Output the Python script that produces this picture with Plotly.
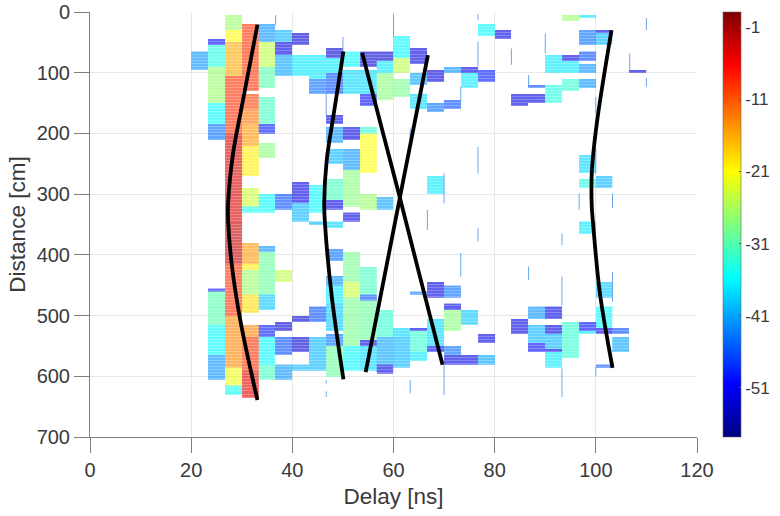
import numpy as np
import plotly.graph_objects as go

# power delay profile, one block per (delay column, distance from, distance to, dB)
column_start = 20.0
column_width = 10 / 3
row_step = 5.0
n_columns = 27

block_col = [0] * 1 + [1] * 9 + [2] * 10 + [3] * 14 + [4] * 13 + [5] * 8 + [6] * 7 + [7] * 6 + [8] * 15 + [9] * 10 \
    + [10] * 11 + [11] * 7 + [12] * 6 + [13] * 7 + [14] * 6 + [15] * 7 + [16] * 5 + [17] * 4 + [18] * 1 + [19] * 2 \
    + [20] * 5 + [21] * 7 + [22] * 5 + [23] * 10 + [24] * 7 + [25] * 2 + [26] * 1
block_from = [65,
              46, 54, 90, 150, 186, 455, 461, 516, 565,
              3, 30, 52, 106, 200, 343, 414, 502, 584, 617,
              21, 133, 161, 186, 222, 292, 320, 382, 414, 425, 463, 515, 534, 590,
              21, 52, 90, 138, 186, 214, 301, 385, 397, 463, 515, 535, 580,
              28, 49, 71, 301, 424, 510, 535, 580,
              33, 71, 280, 315, 502, 535, 580,
              68, 109, 285, 343, 486, 535,
              62, 73, 98, 172, 192, 227, 277, 310, 343, 389, 436, 452, 480, 532, 552,
              67, 95, 189, 227, 260, 329, 397, 445, 470, 548,
              65, 95, 134, 189, 201, 301, 422, 463, 477, 540, 548,
              64, 79, 98, 304, 492, 537, 580,
              3, 41, 76, 111, 519, 535,
              61, 98, 137, 461, 519, 525, 562,
              96, 148, 271, 447, 505, 548,
              90, 145, 451, 481, 488, 552, 565,
              90, 101, 488, 523, 565,
              21, 93, 530, 563,
              28,
              135, 507,
              120, 135, 484, 516, 543,
              70, 122, 484, 516, 532, 554, 562,
              3, 70, 79, 109, 511,
              3, 31, 65, 86, 109, 234, 274, 343, 511, 524,
              31, 36, 268, 445, 484, 518, 578,
              518, 537,
              94]
block_to = [94,
            54, 90, 150, 186, 208, 461, 516, 565, 603,
            30, 52, 106, 200, 343, 414, 502, 584, 617, 631,
            128, 161, 186, 222, 268, 320, 329, 414, 425, 463, 496, 534, 590, 633,
            52, 90, 126, 186, 202, 241, 329, 397, 463, 491, 535, 580, 603,
            49, 71, 107, 326, 447, 524, 565, 605,
            54, 107, 315, 343, 510, 562, 592,
            109, 134, 332, 349, 510, 592,
            73, 98, 134, 186, 214, 249, 310, 323, 356, 408, 452, 480, 524, 552, 600,
            90, 134, 211, 260, 320, 343, 445, 470, 548, 590,
            90, 134, 153, 201, 263, 323, 463, 477, 540, 548, 590,
            79, 98, 145, 323, 537, 580, 594,
            5, 73, 101, 142, 535, 584,
            85, 118, 162, 466, 525, 562, 576,
            116, 166, 300, 468, 548, 562,
            98, 160, 472, 488, 526, 565, 581,
            101, 123, 515, 527, 581,
            38, 115, 545, 581,
            44,
            154, 529,
            127, 149, 506, 543, 562,
            101, 148, 506, 532, 554, 562, 587,
            17, 79, 102, 131, 572,
            8, 54, 79, 101, 127, 264, 292, 363, 524, 532,
            36, 53, 290, 472, 518, 532, 587,
            532, 561,
            101]
block_db = [-42,
            -50, -34, -27, -36, -44, -50, -31, -36, -42,
            -27, -21, -16, -9, -4, -3, -9, -14, -22, -35,
            -9, -10, -13, -15, -20, -24, -35, -15, -20, -27, -19, -14, -9, -5,
            -42, -25, -31, -32, -49, -28, -36, -42, -30, -39, -49, -36, -32,
            -40, -52, -41, -46, -25, -53, -46, -42,
            -53, -37, -52, -40, -53, -53, -40,
            -37, -44, -36, -40, -46, -40,
            -53, -37, -46, -52, -42, -40, -32, -52, -38, -44, -42, -37, -39, -44, -30,
            -36, -38, -52, -42, -28, -52, -29, -24, -29, -36,
            -53, -38, -50, -33, -21, -27, -32, -46, -30, -52, -38,
            -53, -37, -28, -41, -33, -41, -52,
            -36, -36, -25, -29, -38, -40,
            -52, -41, -38, -44, -52, -33, -37,
            -52, -44, -37, -52, -38, -50,
            -42, -46, -44, -52, -28, -44, -52,
            -52, -37, -39, -44, -52,
            -36, -49, -52, -41,
            -52,
            -52, -52,
            -46, -52, -42, -40, -50,
            -37, -34, -52, -52, -40, -52, -37,
            -27, -52, -37, -33, -33,
            -37, -44, -46, -42, -42, -38, -34, -37, -50, -37,
            -52, -40, -40, -39, -36, -52, -46,
            -46, -41,
            -52]
assert len(block_col) == len(block_from) == len(block_to) == len(block_db)

# faint single-sample lines between the blocks
thin_delay = [36.7, 50.0, 46.7, 60.0, 76.7, 76.7, 76.7, 83.3, 90.0, 86.7, 106.7, 110.0, 110.0, 103.3, 96.7,
              70.0, 63.3, 66.7, 100.0, 100.0, 73.3, 66.7, 76.7, 73.3, 86.7, 93.3, 93.3, 103.3, 63.3, 70.0,
              93.3, 100.0, 46.7, 46.7]
thin_from = [5, 41, 134, 3, 3, 49, 222, 60, 35, 104, 68, 10, 109, 299, 299,
             266, 192, 326, 140, 225, 123, 343, 356, 397, 419, 365, 436, 428, 606, 581,
             587, 584, 606, 625]
thin_to = [21, 65, 172, 41, 13, 90, 266, 87, 68, 123, 96, 30, 123, 323, 326,
           315, 216, 343, 167, 266, 145, 359, 378, 436, 441, 384, 483, 477, 628, 631,
           634, 600, 612, 634]

zmin = -57.8
zmax = 1.1
cbar_ticks = [-1, -11, -21, -31, -41, -51]
cbar_labels = ["-1", "-11", "-21", "-31", "-41", "-51"]
jet = [[0, "#00007f"], [0.125, "#0000ff"], [0.375, "#00ffff"], [0.625, "#ffff00"], [0.875, "#ff0000"], [1, "#7f0000"]]

# fitted ray traces, delay [ns] and distance [cm]
ray_delay = [
    [33.1, 30.0, 28.3, 27.3, 27.3, 28.0, 29.7, 33.1],
    [50.1, 48.2, 46.8, 46.3, 46.5, 47.8, 50.1],
    [53.8, 57.6, 61.2, 65.2, 69.7],
    [66.8, 61.3, 54.5],
    [103.1, 100.2, 99.2, 99.2, 99.4, 100.8, 103.3],
]
ray_dist = [
    [21, 156, 232, 315, 343, 414, 507, 639],
    [65, 167, 244, 315, 354, 469, 605],
    [67, 189, 304, 435, 581],
    [71, 304, 593],
    [30, 183, 265, 321, 343, 463, 586],
]

x_ticks = [0, 20, 40, 60, 80, 100, 120]
y_ticks = [0, 100, 200, 300, 400, 500, 600, 700]

rows = np.arange(0, 640, row_step)
cols = column_start + column_width * (np.arange(n_columns) + 0.5)
z = np.full((len(rows), n_columns), np.nan)
for c, a, b, v in zip(block_col, block_from, block_to, block_db):
    z[(rows + row_step / 2 >= a) & (rows + row_step / 2 < b), c] = v

fig = go.Figure()
# pale full blocks below, stripes of stronger colour on top
fig.add_trace(go.Heatmap(x=cols, y=rows + row_step / 2, z=z, zmin=zmin, zmax=zmax, colorscale=jet,
                         opacity=0.47, showscale=False, hoverinfo="skip"))
fig.add_trace(go.Heatmap(x=cols, y=rows + row_step / 2, z=z, zmin=zmin, zmax=zmax, colorscale=jet,
                         opacity=0.27, ygap=1, showscale=False, hoverinfo="skip"))

thin_x, thin_y = [], []
for d, a, b in zip(thin_delay, thin_from, thin_to):
    thin_x += [d, d, None]
    thin_y += [a, b, None]
fig.add_trace(go.Scatter(x=thin_x, y=thin_y, mode="lines", line=dict(color="#6aa8ec", width=1),
                         showlegend=False, hoverinfo="skip"))

for dx, dy in zip(ray_delay, ray_dist):
    fig.add_trace(go.Scatter(x=dx, y=dy, mode="lines", line=dict(color="black", width=3.8, shape="spline"),
                             showlegend=False))

# only here for the colourbar
fig.add_trace(go.Scatter(x=[None], y=[None], mode="markers", showlegend=False,
                         marker=dict(color=[zmin], cmin=zmin, cmax=zmax, colorscale=jet, showscale=True,
                                     colorbar=dict(x=1.043, xanchor="left", xpad=0, y=0.5, len=1, ypad=0,
                                                   thickness=18, outlinewidth=0.6, outlinecolor="#666666",
                                                   tickvals=cbar_ticks, ticktext=cbar_labels, ticks="inside",
                                                   ticklen=2, tickcolor="#555555",
                                                   tickfont=dict(size=17, color="#3a3a3a")))))

fig.update_xaxes(range=[0, 120], tickvals=x_ticks, ticks="outside", ticklen=15, tickcolor="#7f7f7f",
                 showgrid=True, gridcolor="#e8e8e8", gridwidth=1, zeroline=False,
                 showline=True, linecolor="#7f7f7f", linewidth=1,
                 title=dict(text="Delay [ns]", font=dict(size=22.5, color="#3a3a3a"), standoff=8),
                 tickfont=dict(size=20, color="#3a3a3a"))
fig.update_yaxes(range=[700, 0], tickvals=y_ticks, ticks="outside", ticklen=15, tickcolor="#7f7f7f",
                 showgrid=True, gridcolor="#e8e8e8", gridwidth=1, zeroline=False,
                 showline=True, linecolor="#7f7f7f", linewidth=1, ticklabeloverflow="allow",
                 title=dict(text="Distance [cm]", font=dict(size=22.5, color="#3a3a3a"), standoff=4),
                 tickfont=dict(size=20, color="#3a3a3a"))
fig.update_layout(width=780, height=516, margin=dict(l=90, r=83, t=12, b=79, autoexpand=False),
                  paper_bgcolor="white", plot_bgcolor="white", showlegend=False,
                  font=dict(family="Liberation Sans, Arial, sans-serif"))

# drop the page's default body margin so the figure fills the window
fig.write_html("out.html", post_script="document.body.style.margin = '0';",
               config=dict(displayModeBar=False))
